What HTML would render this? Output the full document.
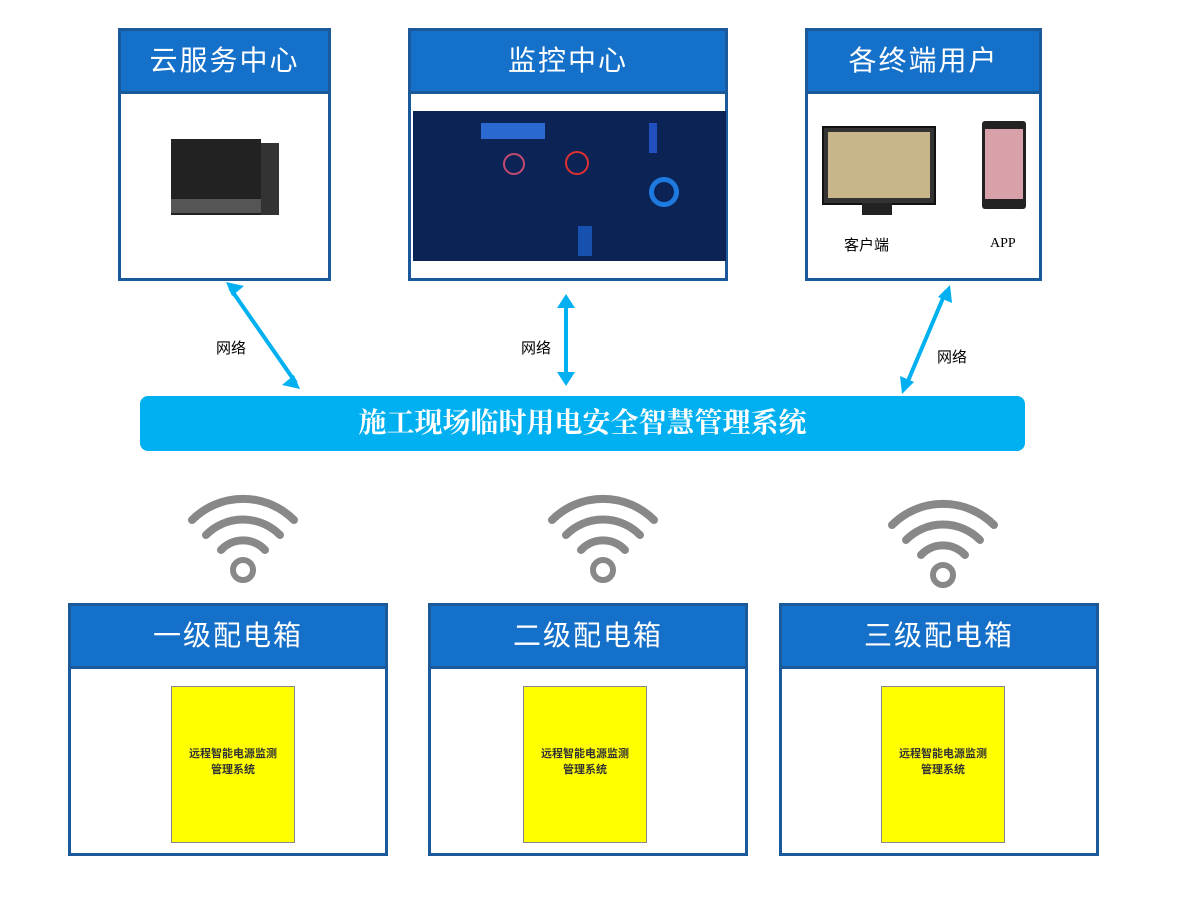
<!DOCTYPE html>
<html><head><meta charset="utf-8"><style>
body{margin:0;width:1200px;height:900px;background:#fff;position:relative;overflow:hidden;font-family:"Liberation Sans","Noto Sans CJK SC",sans-serif}
.box{position:absolute;border:3px solid #1a5a9a;box-sizing:border-box;background:#fff}
.hd{position:absolute;left:0;right:0;top:0;background:#1470c8;border-bottom:3px solid #1a5a9a;color:#fff;text-align:center;font-size:28px;letter-spacing:2px}
.ab{position:absolute}
.y{position:absolute;background:#ffff00;border:1px solid #888;font-size:9px;color:#333;text-align:center}
.lbl{position:absolute;font-size:15px;color:#000}
</style></head><body>
<div class="box" style="left:118px;top:28px;width:213px;height:253px"><div class="hd" style="height:60px;line-height:60px">云服务中心</div>
<div class="ab" style="left:50px;top:108px;width:90px;height:76px;background:#222"></div>
<div class="ab" style="left:140px;top:112px;width:18px;height:72px;background:#333"></div>
<div class="ab" style="left:50px;top:168px;width:90px;height:14px;background:#555"></div></div>
<div class="box" style="left:408px;top:28px;width:320px;height:253px"><div class="hd" style="height:60px;line-height:60px">监控中心</div>
<div class="ab" style="left:2px;top:80px;width:313px;height:150px;background:#0c2356">
<div class="ab" style="left:68px;top:12px;width:64px;height:16px;background:#2a6ad0"></div>
<div class="ab" style="left:90px;top:42px;width:18px;height:18px;border:2px solid #c04a70;border-radius:50%"></div>
<div class="ab" style="left:152px;top:40px;width:20px;height:20px;border:2px solid #e03030;border-radius:50%"></div>
<div class="ab" style="left:236px;top:66px;width:20px;height:20px;border:5px solid #1f7ae0;border-radius:50%"></div>
<div class="ab" style="left:236px;top:12px;width:8px;height:30px;background:#2050c0"></div>
<div class="ab" style="left:165px;top:115px;width:14px;height:30px;background:#1850b0"></div></div></div>
<div class="box" style="left:805px;top:28px;width:237px;height:253px"><div class="hd" style="height:60px;line-height:60px">各终端用户</div>
<div class="ab" style="left:14px;top:95px;width:110px;height:75px;background:#333;border:2px solid #111"><div class="ab" style="left:4px;top:4px;width:102px;height:66px;background:#c9b58a"></div></div>
<div class="ab" style="left:54px;top:172px;width:30px;height:12px;background:#222"></div>
<div class="ab" style="left:174px;top:90px;width:44px;height:88px;background:#222;border-radius:3px"><div class="ab" style="left:3px;top:8px;width:38px;height:70px;background:#d8a0a8"></div></div>
<div class="lbl" style="left:36px;top:203px">客户端</div><div class="lbl" style="left:182px;top:205px;font-family:'Liberation Serif',serif;font-size:14px">APP</div></div>

<svg class="ab" style="left:0;top:0" width="1200" height="900">
<defs><marker id="a" markerWidth="8" markerHeight="8" refX="5" refY="4" orient="auto-start-reverse" markerUnits="userSpaceOnUse" viewBox="0 0 8 8"><path d="M0,0 L8,4 L0,8 L3,4z" fill="#00b0f0"/></marker></defs>
<g stroke="#00b0f0" stroke-width="4" fill="none">
<line x1="230" y1="288" x2="296" y2="383"/><line x1="566" y1="300" x2="566" y2="380"/><line x1="946" y1="291" x2="905" y2="388"/>
<path d="M226,282 l18,4 l-12,10z M300,389 l-18,-4 l12,-10z M566,294 l-9,14 h18z M566,386 l-9,-14 h18z M950,285 l2,18 l-14,-6z M902,394 l-2,-18 l14,6z" fill="#00b0f0" stroke="none"/>
</g>
<g stroke="#888" stroke-width="8" fill="none" stroke-linecap="round">
<g transform="translate(243,570)"><circle cx="0" cy="0" r="10" stroke-width="6"/><path d="M-22,-20 a30,30 0 0 1 44,0"/><path d="M-37,-35 a52,52 0 0 1 74,0"/><path d="M-51,-50 a72,72 0 0 1 102,0"/></g>
<g transform="translate(603,570)"><circle cx="0" cy="0" r="10" stroke-width="6"/><path d="M-22,-20 a30,30 0 0 1 44,0"/><path d="M-37,-35 a52,52 0 0 1 74,0"/><path d="M-51,-50 a72,72 0 0 1 102,0"/></g>
<g transform="translate(943,575)"><circle cx="0" cy="0" r="10" stroke-width="6"/><path d="M-22,-20 a30,30 0 0 1 44,0"/><path d="M-37,-35 a52,52 0 0 1 74,0"/><path d="M-51,-50 a72,72 0 0 1 102,0"/></g>
</g></svg>
<div class="lbl" style="left:216px;top:337px">网络</div><div class="lbl" style="left:521px;top:337px">网络</div><div class="lbl" style="left:937px;top:346px">网络</div>
<div class="ab" style="left:140px;top:396px;width:885px;height:55px;background:#00b0f0;border-radius:8px;color:#fff;text-align:center;line-height:55px;font-size:28px;font-weight:bold;font-family:'Liberation Serif','Noto Serif CJK SC',serif">施工现场临时用电安全智慧管理系统</div>

<div class="box" style="left:68px;top:603px;width:320px;height:253px"><div class="hd" style="height:60px;line-height:60px">一级配电箱</div><div class="y" style="left:100px;top:80px;width:122px;height:155px"><div style="margin-top:58px;font-size:11px;font-weight:bold">远程智能电源监测<br>管理系统</div></div></div>
<div class="box" style="left:428px;top:603px;width:320px;height:253px"><div class="hd" style="height:60px;line-height:60px">二级配电箱</div><div class="y" style="left:92px;top:80px;width:122px;height:155px"><div style="margin-top:58px;font-size:11px;font-weight:bold">远程智能电源监测<br>管理系统</div></div></div>
<div class="box" style="left:779px;top:603px;width:320px;height:253px"><div class="hd" style="height:60px;line-height:60px">三级配电箱</div><div class="y" style="left:99px;top:80px;width:122px;height:155px"><div style="margin-top:58px;font-size:11px;font-weight:bold">远程智能电源监测<br>管理系统</div></div></div>
</body></html>
